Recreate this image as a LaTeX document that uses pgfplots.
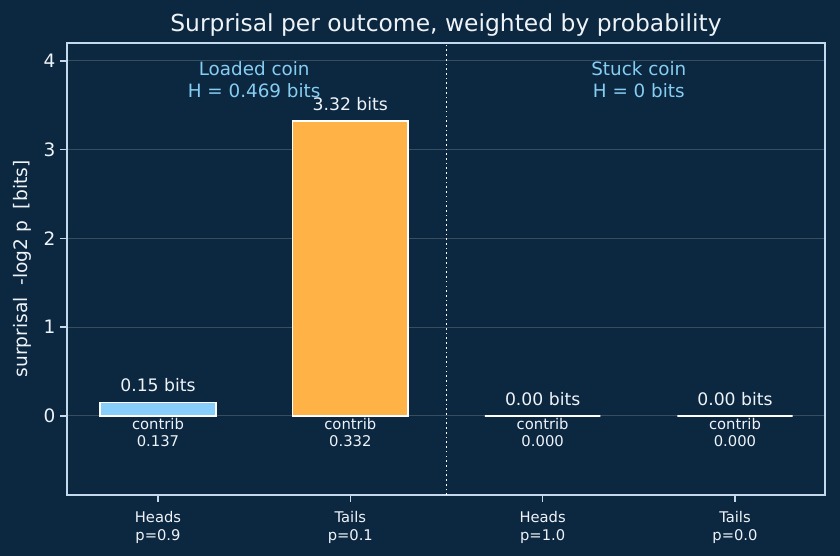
\documentclass[border=0pt]{standalone}
\usepackage{fontspec}
\setmainfont{DejaVu Sans}
\usepackage{pgfplots}
\pgfplotsset{compat=1.18}
\definecolor{bg}{HTML}{0C2740}
\definecolor{spine}{HTML}{C4DAEC}
\definecolor{txt}{HTML}{EEF3F8}
\definecolor{ann}{HTML}{86CDF2}
\definecolor{headc}{HTML}{87CEFA}
\definecolor{tailc}{HTML}{FFB347}
\tikzset{
  bitlbl/.style={text=txt, font=\fontsize{12.4}{14}\selectfont, anchor=base, yshift=7.8pt},
  ctr1/.style={text=txt, font=\fontsize{10.65}{12}\selectfont, anchor=base, yshift=-10.1pt},
  ctr2/.style={text=txt, font=\fontsize{10.65}{12}\selectfont, anchor=base, yshift=-22.1pt},
  annl/.style={text=ann, font=\fontsize{13.2}{15}\selectfont, anchor=base},
}
\begin{document}
\begin{tikzpicture}
\fill[bg] (-48.24pt,-43.92pt) rectangle (556.56pt,356.4pt);
\begin{axis}[
  at={(0,0)}, anchor=south west,
  scale only axis, width=545.76pt, height=325.44pt,
  xmin=-0.473, xmax=3.468, ymin=-0.89, ymax=4.2,
  axis background/.style={fill=bg},
  axis line style={spine, line width=1.2pt},
  tick style={spine, line width=1.1pt},
  tick align=outside, major tick length=4.8pt,
  xtick={0,1,2,3},
  xticklabels={{Heads\\p=0.9},{Tails\\p=0.1},{Heads\\p=1.0},{Tails\\p=0.0}},
  xticklabel style={align=center, font=\fontsize{10.6}{12.7}\selectfont, text=txt, yshift=-3.6pt},
  ytick={0,1,2,3,4},
  yticklabel style={font=\fontsize{13.3}{15}\selectfont, text=txt},
  /pgf/number format/assume math mode=true,
  xtick pos=bottom, ytick pos=left,
  ymajorgrids, grid style={white, opacity=0.18, line width=0.7pt},
  ylabel={surprisal\ \ -log2 p\ \ [bits]},
  ylabel style={font=\fontsize{13.4}{15}\selectfont, text=txt, at={(axis description cs:0,0.5)}, yshift=32.4pt, anchor=center},
  ybar, bar width=0.6, bar shift=0pt,
  clip=false,
]
\addplot[fill=headc, draw=white, line width=1.2pt] coordinates {(0,0.152)};
\addplot[fill=tailc, draw=white, line width=1.2pt] coordinates {(1,3.322)};
\addplot[fill=white, draw=white, line width=1.2pt] coordinates {(2,0)};
\addplot[fill=white, draw=white, line width=1.2pt] coordinates {(3,0)};
\draw[white, line width=1.2pt, dash pattern=on 1.2pt off 2.2pt] (axis cs:1.5,-0.89) -- (axis cs:1.5,4.2);
\node[bitlbl] at (axis cs:0,0.152) {0.15 bits};
\node[bitlbl] at (axis cs:1,3.322) {3.32 bits};
\node[bitlbl] at (axis cs:2,0) {0.00 bits};
\node[bitlbl] at (axis cs:3,0) {0.00 bits};
\node[ctr1] at (axis cs:0,0) {contrib};
\node[ctr2] at (axis cs:0,0) {0.137};
\node[ctr1] at (axis cs:1,0) {contrib};
\node[ctr2] at (axis cs:1,0) {0.332};
\node[ctr1] at (axis cs:2,0) {contrib};
\node[ctr2] at (axis cs:2,0) {0.000};
\node[ctr1] at (axis cs:3,0) {contrib};
\node[ctr2] at (axis cs:3,0) {0.000};
\node[annl] at (axis cs:0.5,3.835) {Loaded coin};
\node[annl, yshift=-15.6pt] at (axis cs:0.5,3.835) {H = 0.469 bits};
\node[annl] at (axis cs:2.5,3.835) {Stuck coin};
\node[annl, yshift=-15.6pt] at (axis cs:2.5,3.835) {H = 0 bits};
\node[text=txt, font=\fontsize{16.85}{19}\selectfont, anchor=base] at (rel axis cs:0.5,1) [yshift=8pt] {Surprisal per outcome, weighted by probability};
\end{axis}
\pgfresetboundingbox
\useasboundingbox (-48.24pt,-43.92pt) rectangle (556.56pt,356.4pt);
\end{tikzpicture}
\end{document}
